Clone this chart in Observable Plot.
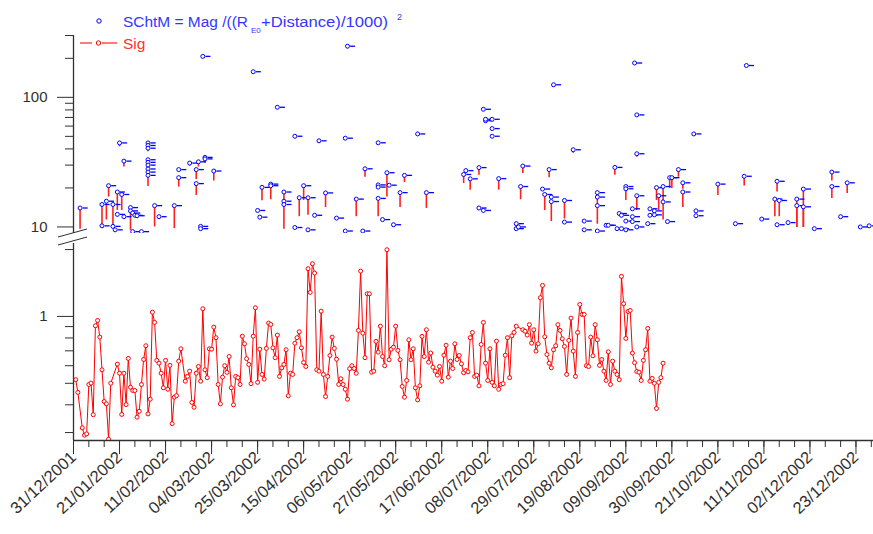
<!DOCTYPE html>
<html><head><meta charset="utf-8">
<script src="https://cdn.jsdelivr.net/npm/d3@7"></script>
<script src="https://cdn.jsdelivr.net/npm/@observablehq/plot@0.6"></script>
<style>
html,body{margin:0;padding:0;background:#fff}
#chart{position:relative;width:873px;height:534px;overflow:hidden;font-family:"Liberation Sans",Arial,sans-serif}
#chart svg{position:absolute;left:0}
#legend text{font-family:"Liberation Sans",Arial,sans-serif;text-anchor:start}
</style></head>
<body><div id="chart">
<svg id="legend" width="873" height="60" style="top:0">
  <circle cx="99" cy="21" r="2.2" fill="white" stroke="#0000ff" stroke-width="1"/>
  <text x="123" y="27" font-size="15.5" fill="#3535ff" textLength="125" lengthAdjust="spacingAndGlyphs">SChtM = Mag /((R</text>
  <text x="251" y="33" font-size="8" fill="#3535ff">E0</text>
  <text x="261" y="27" font-size="15.5" fill="#3535ff" textLength="127" lengthAdjust="spacingAndGlyphs">+Distance)/1000)</text>
  <text x="397" y="20" font-size="9" fill="#3535ff">2</text>
  <line x1="80" y1="43" x2="92" y2="43" stroke="#ff2020" stroke-width="1.2"/>
  <line x1="102" y1="43" x2="117" y2="43" stroke="#ff2020" stroke-width="1.2"/>
  <circle cx="98.5" cy="43" r="2.2" fill="white" stroke="#ff0000" stroke-width="1"/>
  <text x="123" y="49" font-size="15.5" fill="#ff3030">Sig</text>
</svg>
</div>
<script>
// ---- Sig series (bottom panel): day of year 2002 and value ----
const sigDayOfYear = [
1,2,4,5,6,7,8,9,10,11,12,13,14,15,16,17,
20,21,22,23,24,25,26,27,28,29,30,31,32,33,34,35,36,37,38,39,40,41,42,43,44,45,46,47,48,49,
51,52,53,54,55,56,57,58,59,60,61,62,63,64,65,66,67,68,69,70,71,72,73,74,75,76,77,78,79,80,
81,82,83,84,85,86,87,88,89,90,91,92,93,94,95,96,97,98,99,100,101,102,103,104,105,106,107,108,109,110,
111,112,113,114,115,116,117,118,119,120,121,122,123,124,125,126,127,128,129,130,131,
132,133,134,135,136,137,138,139,140,141,142,143,144,145,146,147,148,149,150,151,
152,153,154,155,156,157,158,159,160,161,162,163,164,165,166,167,168,169,170,171,
172,173,174,175,176,177,178,179,180,181,182,183,184,185,186,187,188,189,190,191,
192,193,194,195,196,197,198,199,200,201,202,
205,206,207,208,209,210,211,212,213,214,215,216,217,218,219,220,221,222,223,224,
225,226,227,228,229,230,231,232,233,234,235,236,237,238,239,240,241,242,243,244,
245,246,247,248,249,250,251,252,253,254,255,256,257,258,259,260,261,262,263,264,
265,266,267,268,269];
const sigValue = [
0.519,0.455,0.315,0.292,0.296,0.494,0.501,0.361,0.908,0.959,
0.807,0.575,0.414,0.404,0.28,0.5,0.61,0.555,0.362,0.555,
0.401,0.647,0.48,0.464,0.464,0.352,0.374,0.494,0.64,0.738,
0.364,0.424,1.045,0.94,0.634,0.616,0.555,0.477,0.634,0.47,
0.602,0.329,0.433,0.44,0.629,0.715,0.511,0.537,0.567,0.41,
0.39,0.555,0.595,0.511,1.083,0.575,0.53,0.715,0.712,0.895,
0.802,0.494,0.404,0.533,0.6,0.56,0.66,0.477,0.4,0.537,
0.53,0.494,0.815,0.753,0.645,0.608,0.498,0.815,1.094,0.505,
0.712,0.548,0.522,0.718,0.933,0.92,0.722,0.652,0.824,0.537,
0.587,0.608,0.708,0.439,0.555,0.548,0.758,0.802,0.853,0.722,
0.62,0.595,1.64,1.283,1.727,1.567,0.575,0.567,1.056,0.548,
0.436,0.537,0.667,0.807,0.718,0.642,0.494,0.524,0.494,0.47,
0.424,0.582,0.6,0.583,0.555,0.865,1.6,
0.841,0.652,1.265,1.265,0.561,0.567,0.772,0.691,0.904,0.66,
0.6,1.997,0.638,0.712,0.727,0.904,0.703,0.638,0.484,0.433,
0.515,0.785,0.638,0.715,0.477,0.421,0.487,0.813,0.66,0.871,
0.622,0.684,0.591,0.567,0.544,0.595,0.511,0.669,0.742,0.533,
0.629,0.583,0.753,0.64,0.667,0.612,0.558,0.571,0.563,0.802,
0.847,0.537,0.544,0.487,0.748,0.94,0.616,0.515,0.715,0.505,
0.487,0.774,0.47,0.494,0.498,0.669,0.802,0.53,0.818,0.847,0.904,
0.871,0.858,0.824,0.918,0.758,0.871,0.698,0.753,1.214,1.379,
0.81,0.674,0.616,0.587,0.708,0.738,0.918,0.865,0.793,0.733,
0.548,0.78,0.983,0.698,0.537,0.847,1.132,1.021,1.021,0.6,
0.595,0.807,0.665,0.918,0.785,0.602,0.64,0.567,0.515,0.693,
0.494,0.629,0.567,0.548,0.519,1.515,1.141,0.796,1.053,1.064,
0.684,0.619,0.565,0.561,0.515,0.634,0.708,0.883,0.511,0.526,
0.5,0.385,0.505,0.53,0.616];

// ---- SChtM series (top panel): day of year 2002, value, lower end of red bar ----
const topDay = [
3,13,13,15,16,18,18,19,20,20,
21,22,23,23,26,26,27,28,27,29,
31,34,34,34,34,34,34,34,34,34,
37,39,46,48,48,53,56,56,57,58,
58,59,60,60,64,82,84,85,86,90,
90,93,96,96,96,101,101,103,105,107,
107,110,112,115,120,124,124,125,129,132,
133,139,139,139,139,141,143,144,146,149,
151,157,161,178,179,181,185,185,187,187,
188,188,191,191,191,194,202,202,203,204,
205,214,215,217,218,218,219,224,224,228,
233,233,239,239,239,239,243,244,247,248,
249,250,250,252,252,252,252,255,255,255,
256,257,257,257,257,262,263,263,265,265,
266,267,269,269,271,272,273,276,278,278,
283,284,284,294,302,306,307,314,320,322,
321,321,326,330,330,333,333,338,346,346,
350,353,359,363];
const topValue = [
14.0,10.2,14.9,15.8,20.8,14.9,10.1,9.5,18.6,12.5,
44.5,17.8,12.0,32.2,14.1,13.3,12.8,12.3,9.2,12.2,
9.2,44.5,42.5,40.5,33,31.5,30,28,26.5,25,
14.6,12.0,14.6,27.7,24.0,31.1,27.7,21.6,31.8,10.1,
9.7,207,34.4,33.5,27.0,157.6,13.4,11.9,20.2,21.4,
20.8,83.8,18.6,15.8,14.9,50.1,9.9,16.8,20.8,16.8,
9.5,12.3,46.2,18.3,11.7,48.4,9.3,248,16.4,9.3,
28.1,44.6,21.1,20.3,16.6,11.4,26.2,21.0,10.4,18.4,
25.0,52.2,18.4,25.4,27.2,23.5,28.7,14.0,13.4,80.9,
66,67.7,67.7,57.4,50.1,23.6,10.6,9.7,10.0,20.5,
29.5,19.6,17.8,27.7,17.0,15.7,125,16.0,10.9,39.4,
11.1,9.5,18.4,17.0,14.6,9.3,10.3,10.3,28.8,9.7,
12.7,12.3,9.7,11.1,9.5,20.5,19.7,13.8,12.0,11.0,
184,36.7,73.2,17.4,10.0,10.6,13.8,12.3,13.3,12.4,
20.1,17.4,20.5,15.6,11.0,24.0,24.0,27.7,21.9,18.6,
52.2,13.3,12.2,21.4,10.6,24.6,176,11.5,16.4,16.0,
22.5,10.4,10.8,16.4,14.6,14.3,19.6,9.7,26.5,20.5,
12.0,21.9,10.0,10.2];
const topLow = [
9.6,null,9.9,11.3,17.0,10.0,null,null,13.4,null,
41.5,13.4,null,29.0,9.4,null,null,null,null,null,
null,null,null,38,null,null,null,null,null,20.5,
10.0,null,9.7,null,20.3,29.5,23.2,17.5,29.0,null,
null,null,31,null,22.6,null,null,null,15.9,16.2,
null,null,16,9.6,null,null,null,12.0,16.0,12.3,
null,null,44,14.1,null,null,null,null,12.0,null,
24.2,43,null,null,12.0,null,17,null,null,14.1,
22,null,13.9,21.6,null,19.2,25,null,null,null,
null,null,null,null,null,19.2,null,null,null,16.2,
25.8,null,13.4,24,null,11.0,null,11.5,null,37,
null,null,10.5,null,null,null,null,null,25,null,
null,null,null,null,null,16,null,null,null,null,
null,34.5,null,13.4,null,null,null,null,null,null,
16,13.4,16,11.3,null,19.8,19.8,24.2,19.5,14.1,
null,null,null,17.5,null,20.7,172,null,12.0,12.0,
18.6,null,null,9.9,9.9,9.9,9.9,null,22.6,16.6,
null,18.1,null,null];

// ---- axis ticks ----
const xTickLabels = ["31/12/2001","21/01/2002","11/02/2002","04/03/2002","25/03/2002","15/04/2002",
  "06/05/2002","27/05/2002","17/06/2002","08/07/2002","29/07/2002","19/08/2002","09/09/2002",
  "30/09/2002","21/10/2002","11/11/2002","02/12/2002","23/12/2002"];
const topMajorTicks = [10, 100];
const topMinorTicks = [20, 30, 40, 50, 60, 70, 80, 90, 200, 300];
const sigMajorTicks = [1];
const sigMinorTicks = [0.3, 0.4, 0.5, 0.6, 0.7, 0.8, 0.9, 2];
const xDomainLabels = ["31/12/2001", "31/12/2002"];
const topDomain = [8.9, 300];
const sigDomain = [0.2763, 2.13];

const parseLabel = d3.utcParse("%d/%m/%Y");
const fmtLabel = d3.utcFormat("%d/%m/%Y");
const xDomain = xDomainLabels.map(parseLabel);
const xStart = xDomain[0];
const dayToDate = d => d3.utcDay.offset(xStart, d);
const xTicks = xTickLabels.map(parseLabel);
const xMinorTicks = d3.utcMonday.range(xDomain[0], d3.utcDay.offset(xDomain[1], 1));

const sigData = sigDayOfYear.map((d, i) => ({date: dayToDate(d), value: sigValue[i]}));
const schtmData = topDay.map((d, i) => ({date: dayToDate(d), value: topValue[i], low: topLow[i]}));

const BLUE = "#0000ff", RED = "#ff0000", AXIS = "#303030";
const dashSymbol = {draw(ctx, size) { const r = Math.sqrt(size / Math.PI); ctx.moveTo(r + 0.6, 0); ctx.lineTo(r + 5.6, 0); }};
const baseStyle = {fontFamily: "Liberation Sans, Arial, sans-serif", fontSize: "15px", color: AXIS, background: "transparent", overflow: "visible"};

const topPlot = Plot.plot({
  width: 873, height: 240, marginLeft: 73, marginRight: 0, marginTop: 35, marginBottom: 7,
  style: baseStyle,
  x: {type: "utc", domain: xDomain, axis: null},
  y: {type: "log", domain: topDomain},
  marks: [
    Plot.ruleX(schtmData.filter(d => d.low != null), {x: "date", y1: "low", y2: "value", stroke: "#ff2020", strokeWidth: 1.6, clip: true}),
    Plot.dot(schtmData, {x: "date", y: "value", r: 2, symbol: dashSymbol, stroke: BLUE, strokeWidth: 1.3, clip: true}),
    Plot.dot(schtmData, {x: "date", y: "value", r: 2, stroke: BLUE, fill: "white", strokeWidth: 1, clip: true}),
    Plot.axisY(topMajorTicks, {tickSize: 16, tickPadding: 10, tickFormat: d => String(d), label: null, fontSize: 15}),
    Plot.axisY(topMinorTicks, {tickSize: 8, fill: "none", label: null}),
    Plot.ruleX([xStart], {stroke: AXIS, strokeWidth: 1.3})
  ]
});

const sigPlot = Plot.plot({
  width: 873, height: 294, marginLeft: 73, marginRight: 0, marginTop: 3, marginBottom: 94,
  style: baseStyle,
  x: {type: "utc", domain: xDomain},
  y: {type: "log", domain: sigDomain},
  marks: [
    Plot.line(sigData, {x: "date", y: "value", stroke: RED, strokeWidth: 1, clip: true}),
    Plot.dot(sigData, {x: "date", y: "value", r: 2, stroke: RED, fill: "white", strokeWidth: 1, clip: true}),
    Plot.axisY(sigMajorTicks, {tickSize: 16, tickPadding: 10, tickFormat: d => String(d), label: null, fontSize: 15}),
    Plot.axisY(sigMinorTicks, {tickSize: 8, fill: "none", label: null}),
    Plot.axisX(xTicks, {tickSize: 14, tickPadding: 0, tickRotate: -43, tickFormat: fmtLabel, label: null, fontSize: 16.5}),
    Plot.axisX(xMinorTicks, {tickSize: 7, fill: "none", label: null}),
    Plot.ruleX([xStart], {stroke: AXIS, strokeWidth: 1.3}),
    Plot.ruleY([sigDomain[0]], {stroke: AXIS, strokeWidth: 1.3})
  ]
});

const chart = document.getElementById("chart");
topPlot.style.top = "0px";
sigPlot.style.top = "240px";
chart.appendChild(topPlot);
chart.appendChild(sigPlot);

// axis break marks
const brk = d3.select(chart).append("svg").attr("width", 100).attr("height", 30)
  .style("top", "225px").style("left", "0px");
brk.append("line").attr("x1", 58).attr("y1", 12).attr("x2", 87).attr("y2", 4).attr("stroke", AXIS);
brk.append("line").attr("x1", 58).attr("y1", 20).attr("x2", 87).attr("y2", 12).attr("stroke", AXIS);
document.getElementById("legend").style.zIndex = 5;
</script>
</body></html>
